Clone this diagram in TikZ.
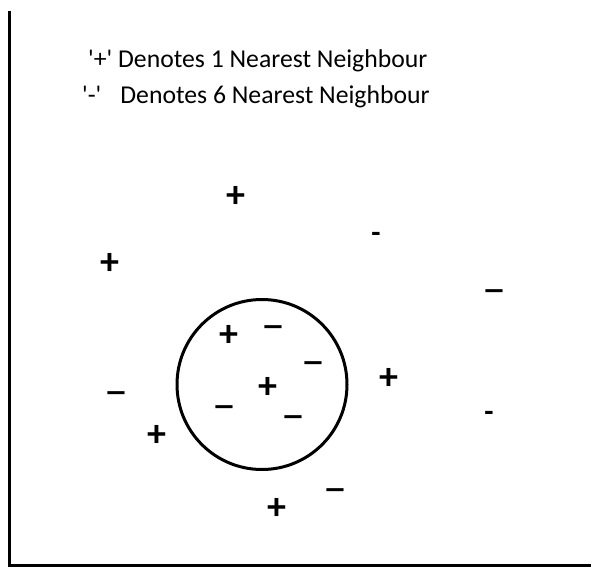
\documentclass[tikz,border=0pt]{standalone}
\usepackage{fontspec}
\setmainfont{Carlito}
\usetikzlibrary{positioning}
\tikzset{
    % legend lines at the top
    legend/.style={
        anchor=base west,
        inner sep=0pt,
        font=\fontsize{25.7}{30}\selectfont
    },
    % the + and - marks
    mark plus/.style={
        inner sep=0pt,
        text height=24.6pt,
        text depth=0pt,
        font=\fontsize{38}{38}\selectfont\bfseries
    },
    mark minus/.style={
        inner sep=0pt,
        text height=29.6pt,
        text depth=0pt,
        font=\fontsize{48}{48}\selectfont
    },
    mark dash/.style={
        inner sep=0pt,
        text height=19pt,
        text depth=0pt,
        font=\fontsize{30}{30}\selectfont\bfseries
    },
    region/.style={
        circle,
        draw,
        line width=3pt,
        minimum size=170pt,
        inner sep=0pt
    }
}
\begin{document}
\begin{tikzpicture}[x=1pt, y=-1pt]
        \useasboundingbox (0,0) rectangle (591,567);
        % axes frame
        \draw[line width=3.5pt] (9.5,11) -- (9.5,565.5) -- (591,565.5);

        % legend
        \node[legend] (plusnote) at (88,68)
              {\textquotesingle+\textquotesingle\ Denotes 1 Nearest Neighbour};
        \node[legend] (minusnote) at (82,104)
              {\textquotesingle-\textquotesingle\hspace{19pt}Denotes 6 Nearest Neighbour};

        % neighbourhood
        \node[region] (hood) at (262,384.5) {};

        % marks inside the circle
        \node[mark plus] (p1) at (229,334) {+};
        \node[mark minus] (m1) at (273,326) {\textendash};
        \node[mark minus] (m2) at (313,362) {\textendash};
        \node[mark plus] (p2) at (268,386) {+};
        \node[mark minus] (m3) at (224,406) {\textendash};
        \node[mark minus] (m4) at (293,416) {\textendash};

        % marks outside the circle
        \node[mark plus] (p3) at (236,195) {+};
        \node[mark dash] (d1) at (376,233) {-};
        \node[mark plus] (p4) at (110,262) {+};
        \node[mark minus] (m5) at (494,290) {\textendash};
        \node[mark minus] (m6) at (116,392) {\textendash};
        \node[mark plus] (p5) at (389,377) {+};
        \node[mark dash] (d2) at (489,412) {-};
        \node[mark plus] (p6) at (157,434) {+};
        \node[mark minus] (m7) at (335,489) {\textendash};
        \node[mark plus] (p7) at (277,507) {+};
    \end{tikzpicture}
\end{document}
